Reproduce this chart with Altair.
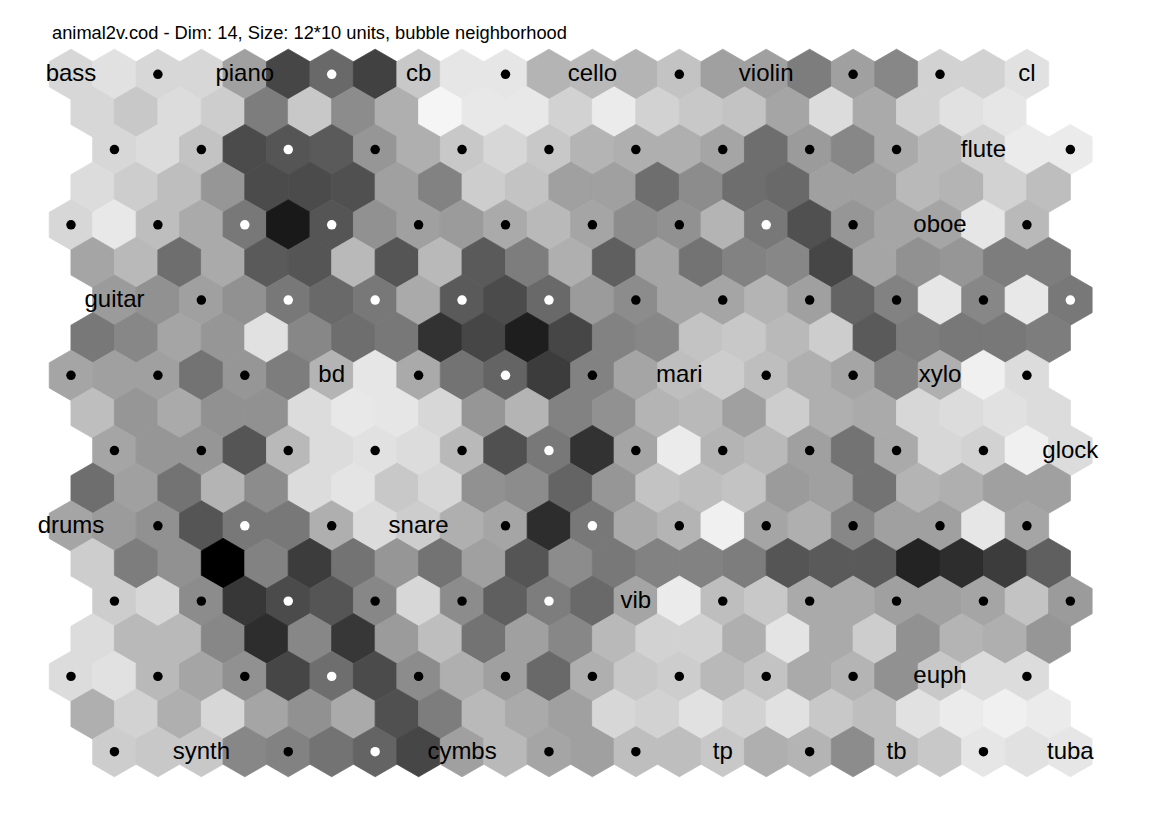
import altair as alt
import pandas as pd

TITLE = "animal2v.cod - Dim: 14, Size: 12*10 units, bubble neighborhood"

# U-matrix gray levels (0 = black, 255 = white), 19 rows x 23 cells
umat = [
    [215, 225, 215, 215, 160, 70, 105, 65, 200, 230, 230, 180, 185, 180, 195, 160, 160, 125, 160, 135, 210, 210, 225],
    [215, 200, 220, 205, 125, 200, 140, 175, 245, 232, 232, 210, 235, 210, 200, 195, 165, 220, 170, 210, 225, 230, 255],
    [215, 220, 195, 75, 85, 90, 150, 175, 200, 215, 200, 180, 175, 175, 165, 110, 155, 135, 170, 185, 210, 235, 235],
    [220, 205, 190, 150, 75, 75, 80, 160, 130, 205, 195, 160, 160, 110, 140, 110, 105, 160, 160, 185, 180, 210, 190],
    [215, 232, 190, 170, 120, 25, 85, 145, 160, 155, 170, 185, 165, 140, 145, 180, 120, 80, 150, 165, 165, 230, 185],
    [165, 185, 110, 170, 90, 85, 185, 85, 185, 90, 125, 175, 95, 165, 115, 130, 135, 70, 165, 145, 150, 125, 125],
    [155, 145, 160, 145, 120, 105, 120, 170, 90, 75, 105, 155, 140, 165, 165, 180, 160, 100, 130, 230, 135, 232, 120],
    [120, 135, 165, 150, 225, 135, 110, 120, 50, 70, 30, 70, 130, 135, 195, 200, 185, 205, 90, 125, 120, 120, 125],
    [165, 160, 160, 115, 150, 125, 180, 230, 170, 115, 100, 60, 130, 165, 190, 205, 190, 175, 165, 130, 175, 240, 220],
    [190, 150, 170, 145, 145, 220, 232, 230, 215, 150, 180, 130, 145, 180, 185, 160, 205, 175, 170, 215, 220, 225, 220],
    [165, 150, 150, 85, 185, 220, 225, 220, 185, 80, 120, 50, 165, 235, 180, 185, 160, 115, 170, 215, 210, 240, 220],
    [110, 160, 115, 180, 140, 220, 228, 200, 215, 145, 140, 100, 150, 195, 190, 195, 155, 160, 115, 180, 175, 160, 160],
    [165, 155, 145, 85, 120, 120, 175, 220, 205, 175, 165, 45, 120, 170, 180, 240, 165, 175, 135, 160, 160, 230, 165],
    [205, 125, 145, 0, 130, 60, 115, 150, 115, 160, 85, 140, 120, 130, 130, 125, 85, 90, 90, 35, 45, 60, 95],
    [205, 215, 140, 55, 75, 85, 135, 215, 140, 95, 125, 105, 165, 235, 190, 200, 170, 170, 160, 160, 165, 195, 155],
    [220, 185, 185, 135, 45, 135, 55, 155, 190, 115, 160, 135, 185, 210, 210, 175, 228, 170, 205, 145, 180, 175, 150],
    [220, 225, 185, 165, 145, 70, 110, 75, 140, 175, 160, 105, 175, 200, 205, 185, 195, 170, 180, 145, 200, 220, 220],
    [175, 210, 175, 215, 165, 145, 170, 80, 125, 185, 170, 160, 215, 210, 225, 210, 225, 200, 190, 225, 235, 240, 235],
    [205, 200, 200, 135, 130, 115, 100, 70, 160, 185, 165, 160, 190, 190, 200, 175, 180, 140, 190, 200, 230, 225, 230],
]

# horizontal shift of each U-matrix row (in cell widths), repeating every 4 rows
row_shift = [0, 0.5, 1, 0.5]

# unit labels, 10 unit rows x 12 units ("" = unlabeled unit)
unit_labels = [
    ["bass", "", "piano", "", "cb", "", "cello", "", "violin", "", "", "cl"],
    ["", "", "", "", "", "", "", "", "", "", "flute", ""],
    ["", "", "", "", "", "", "", "", "", "", "oboe", ""],
    ["guitar", "", "", "", "", "", "", "", "", "", "", ""],
    ["", "", "", "bd", "", "", "", "mari", "", "", "xylo", ""],
    ["", "", "", "", "", "", "", "", "", "", "", "glock"],
    ["drums", "", "", "", "snare", "", "", "", "", "", "", ""],
    ["", "", "", "", "", "", "vib", "", "", "", "", ""],
    ["", "", "", "", "", "", "", "", "", "", "euph", ""],
    ["", "synth", "", "", "cymbs", "", "", "tp", "", "tb", "", "tuba"],
]

# dot colour of unlabeled units: b = black, w = white
unit_dots = [
    ["", "b", "", "w", "", "b", "", "b", "", "b", "b", ""],
    ["b", "b", "w", "b", "b", "b", "b", "b", "b", "b", "", "b"],
    ["b", "b", "w", "w", "b", "b", "b", "b", "w", "b", "", "b"],
    ["", "b", "w", "w", "w", "w", "b", "b", "b", "b", "b", "w"],
    ["b", "b", "b", "", "b", "w", "b", "", "b", "b", "", "b"],
    ["b", "b", "b", "b", "b", "w", "b", "b", "b", "b", "b", ""],
    ["", "b", "w", "b", "", "b", "w", "b", "b", "b", "b", "b"],
    ["b", "b", "w", "b", "b", "w", "", "b", "b", "b", "b", "b"],
    ["b", "b", "b", "w", "b", "b", "b", "b", "b", "b", "", "b"],
    ["b", "", "b", "w", "", "b", "b", "", "b", "", "b", ""],
]

cells = []
for r, row in enumerate(umat):
    for j, g in enumerate(row):
        cells.append({"hx": j + row_shift[r % 4], "hy": r, "gray": g})
cells = pd.DataFrame(cells)

units = []
for u in range(len(unit_labels)):
    r = 2 * u
    for k in range(12):
        units.append({
            "hx": 2 * k + row_shift[r % 4],
            "hy": r,
            "label": unit_labels[u][k],
            "dot": unit_dots[u][k],
        })
units = pd.DataFrame(units)

HEX = "M0,-1L0.866,-0.5L0.866,0.5L0,1L-0.866,0.5L-0.866,-0.5Z"

xs = alt.Scale(domain=[-1.6341, 25.2934], nice=False, zero=False)
ys = alt.Scale(domain=[-1.9745, 19.9761], nice=False, zero=False, reverse=True)
gs = alt.Scale(domain=[0, 255], range=["#000000", "#ffffff"], interpolate="rgb")

X = alt.X("hx:Q", scale=xs, axis=None)
Y = alt.Y("hy:Q", scale=ys, axis=None)

hexes = alt.Chart(cells).mark_point(
    shape=HEX, size=2525, filled=True, opacity=1, strokeWidth=0.8
).encode(
    x=X, y=Y,
    fill=alt.Fill("gray:Q", scale=gs, legend=None),
    stroke=alt.Stroke("gray:Q", scale=gs, legend=None),
)

dots = alt.Chart(units).transform_filter("datum.dot != ''").mark_circle(
    size=90, opacity=1
).encode(
    x=X, y=Y,
    color=alt.Color("dot:N", scale=alt.Scale(domain=["b", "w"], range=["#000000", "#ffffff"]), legend=None),
)

labels = alt.Chart(units).transform_filter("datum.label != ''").mark_text(
    font="Liberation Sans", fontSize=24, align="center", baseline="middle", color="black"
).encode(x=X, y=Y, text="label:N")

title = alt.Chart(pd.DataFrame({"t": [TITLE]})).mark_text(
    font="Liberation Sans", fontSize=18.3, align="left", baseline="alphabetic", color="black"
).encode(x=alt.value(52), y=alt.value(38.5), text="t:N")

chart = alt.layer(hexes, dots, labels, title).resolve_scale(
    color="independent", fill="independent", stroke="independent"
).properties(
    width=1170, height=826, autosize=alt.AutoSizeParams(type="none"), padding=0,
    background="white",
).configure_view(stroke=None)

chart.save("out.html", embed_options={"renderer": "svg", "actions": False})
